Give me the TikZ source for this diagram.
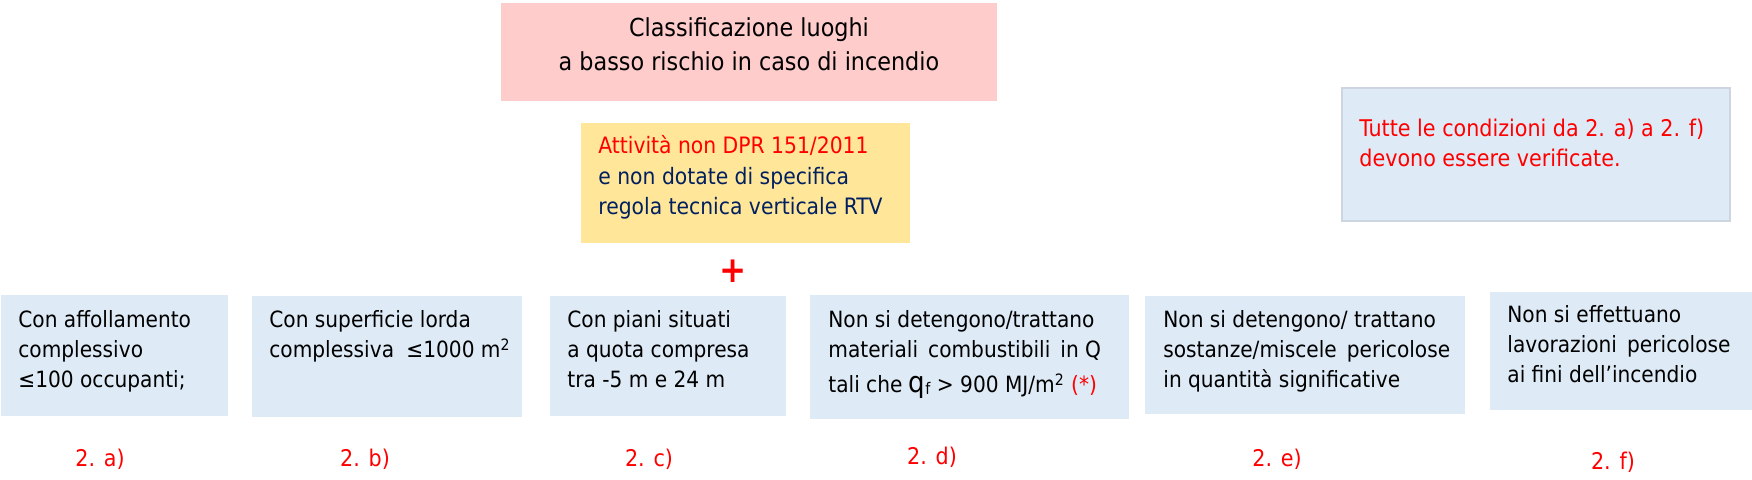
\documentclass[tikz,border=0pt]{standalone}
\usepackage{fontspec}
\setmainfont{DejaVu Sans Condensed}
\usetikzlibrary{fit}
\definecolor{pinkfill}{HTML}{FFCCCC}
\definecolor{yellowfill}{HTML}{FFE699}
\definecolor{bluefill}{HTML}{DEEBF7}
\definecolor{navy}{HTML}{002060}
\definecolor{notedraw}{HTML}{CDD5E0}
\definecolor{redtext}{HTML}{FF0000}
\begin{document}
\begin{tikzpicture}[x=0.5pt,y=-0.5pt,
  panel/.style={inner sep=0pt, outer sep=0pt},
  bluepanel/.style={panel, fill=bluefill},
  txt/.style={inner sep=0pt, anchor=base west, align=left, font=\fontsize{11.2}{15}\selectfont},
  lbl/.style={inner sep=0pt, anchor=base, text=redtext, font=\fontsize{11.5}{14}\selectfont}]
\useasboundingbox (0,0) rectangle (1752,480);

% panels
\node[panel, fill=pinkfill, fit={(501,3)(997,101)}] (title) {};
\node[panel, fill=yellowfill, fit={(581,123)(910,243)}] (yellow) {};
\node[panel, fill=bluefill, draw=notedraw, line width=0.6pt, fit={(1342,88)(1730,221)}] (note) {};
\node[bluepanel, fit={(1,295)(228,416)}] (b1) {};
\node[bluepanel, fit={(252,296)(522,417)}] (b2) {};
\node[bluepanel, fit={(550,296)(786,416)}] (b3) {};
\node[bluepanel, fit={(810,295)(1129,419)}] (b4) {};
\node[bluepanel, fit={(1145,296)(1465,414)}] (b5) {};
\node[bluepanel, fit={(1490,292)(1752,410)}] (b6) {};

% title text (anchor at baseline of last line)
\node[inner sep=0pt, anchor=base, align=center, font=\fontsize{12.4}{17}\selectfont] (ttxt) at (749,71)
  {Classificazione luoghi\\a basso rischio in caso di incendio};

% yellow text
\node[txt, font=\fontsize{11.3}{15.25}\selectfont] (ytxt) at (598,215)
  {\textcolor{redtext}{Attività non DPR 151/2011}\\\textcolor{navy}{e non dotate di specifica}\\\textcolor{navy}{regola tecnica verticale RTV}};

% note text
\node[txt, text=redtext, font=\fontsize{11.5}{15}\selectfont] (ntxt) at (1359,167)
  {Tutte le condizioni da 2. a) a 2. f)\\devono essere verificate.};

% plus
\node[inner sep=0pt, text=redtext, font=\fontsize{18}{18}\selectfont\bfseries] (plus) at (733,271) {+};

% box texts
\node[txt] (t1) at (18,388) {Con affollamento\\complessivo\\≤100 occupanti;};
\node[txt] (t2) at (269,358) {Con superficie lorda\\complessiva\hspace{0.55em}≤1000 m\textsuperscript{2}};
\node[txt] (t3) at (567,388) {Con piani situati\\a quota compresa\\tra -5 m e 24 m};
\node[txt] (t4) at (828,393) {Non si detengono/trattano\\materiali\hspace{0.45em}combustibili\hspace{0.45em}in Q\\[2.5pt]tali che {\fontsize{14.5}{15}\selectfont q}\raisebox{-1pt}{\fontsize{8}{9}\selectfont f} > 900 MJ/m\textsuperscript{2} \textcolor{redtext}{(*)}};
\node[txt] (t5) at (1163,388) {Non si detengono/ trattano\\sostanze/miscele\hspace{0.45em}pericolose\\in quantità significative};
\node[txt] (t6) at (1507,383) {Non si effettuano\\lavorazioni\hspace{0.45em}pericolose\\ai fini dell’incendio};

% labels
\node[lbl] (l1) at (100,467) {2. a)};
\node[lbl] (l2) at (365,467) {2. b)};
\node[lbl] (l3) at (649,467) {2. c)};
\node[lbl] (l4) at (932,465) {2. d)};
\node[lbl] (l5) at (1277,467) {2. e)};
\node[lbl] (l6) at (1613,470) {2. f)};
\end{tikzpicture}
\end{document}
